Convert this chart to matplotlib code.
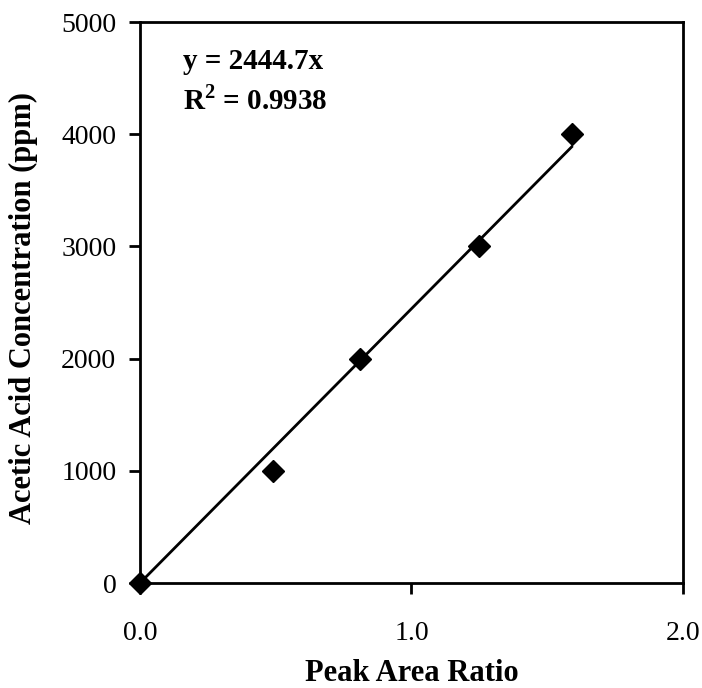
import matplotlib.pyplot as plt
import numpy as np

plt.rcParams["font.family"] = ["Liberation Serif", "DejaVu Serif"]
plt.rcParams["mathtext.fontset"] = "custom"
plt.rcParams["mathtext.rm"] = "Liberation Serif"
plt.rcParams["mathtext.bf"] = "Liberation Serif:bold"

peak_ratio = [0.0, 0.49, 0.81, 1.25, 1.59]
concentration = [0, 1000, 2000, 3000, 4000]
slope = 2444.7
r_squared = 0.9938

x_ticks = [0.0, 1.0, 2.0]
y_ticks = [0, 1000, 2000, 3000, 4000, 5000]


def main():
    fig = plt.figure(figsize=(7.02, 6.88), dpi=100)
    ax = fig.add_axes([0.1994, 0.1526, 0.7735, 0.8154])

    fit_x = np.array([0.0, max(peak_ratio)])
    ax.plot(fit_x, slope * fit_x, color="black", linewidth=2.0, zorder=2)
    ax.plot(peak_ratio, concentration, linestyle="none", marker="D",
            markersize=11, color="black", zorder=3, clip_on=False)

    ax.set_xlim(0, 2.0)
    ax.set_ylim(0, 5000)
    ax.set_xticks(x_ticks)
    ax.set_xticklabels([f"{t:.1f}" for t in x_ticks])
    ax.set_yticks(y_ticks)

    for side in ax.spines.values():
        side.set_linewidth(2.0)
    ax.tick_params(axis="x", direction="out", length=8, width=2,
                   labelsize=20, pad=19)
    ax.tick_params(axis="y", direction="out", length=8, width=2,
                   labelsize=20, pad=9)

    ax.set_xlabel("Peak Area Ratio", fontsize=22, fontweight="bold")
    ax.xaxis.set_label_coords(0.5, -0.161)
    ax.xaxis.label.set_va("center")
    ax.set_ylabel("Acetic Acid Concentration (ppm)", fontsize=22,
                  fontweight="bold")
    ax.yaxis.set_label_coords(-0.214, 0.49)
    ax.yaxis.label.set_va("center")

    ax.text(0.08, 0.93, f"y = {slope}x", transform=ax.transAxes,
            fontsize=21, fontweight="bold", va="center")
    ax.text(0.08, 0.86, f"R$^\\mathbf{{2}}$ = {r_squared}", transform=ax.transAxes,
            fontsize=21, fontweight="bold", va="center")

    fig.savefig("out.png", dpi=100)


if __name__ == "__main__":
    main()
